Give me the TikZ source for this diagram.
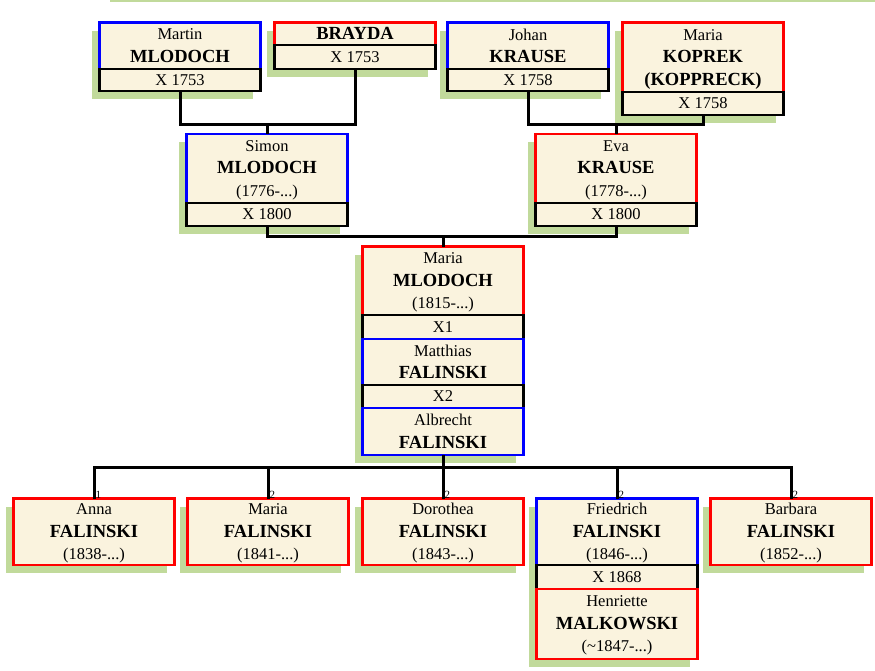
\documentclass[tikz,border=0pt]{standalone}
\usepackage{fontspec}
\setmainfont{Liberation Serif}
\usetikzlibrary{positioning,shadows}

\definecolor{cream}{RGB}{250,243,222}
\definecolor{leafgreen}{RGB}{193,218,155}
\newcommand{\surn}[1]{{\fontsize{18.5}{22.5}\selectfont\bfseries #1}}

\begin{document}
\begin{tikzpicture}[
  x=1pt, y=-1pt,
  box/.style={line width=2.8pt, fill=cream, minimum width=161pt, outer sep=0pt,
    inner sep=0pt, anchor=north, align=center, font=\fontsize{16.5}{22.5}\selectfont,
    general shadow={fill=leafgreen, shadow xshift=-8pt, shadow yshift=-8pt}},
  person/.style={box, draw=#1, text depth=-2pt},
  wed/.style={box, draw=black, minimum height=23pt, text depth=0pt},
  link/.style={line width=3pt, line join=miter},
  num/.style={font=\fontsize{11}{11}\selectfont, inner sep=0pt, anchor=south west, xshift=1.5pt}
]
  \useasboundingbox (0,0) rectangle (875,670);
  \draw[leafgreen, line width=2pt] (110,1) -- (875,1);

  % grandparents
  \node[person=blue, minimum height=46.5pt] (martin) at (180,22.5) {Martin\\\surn{MLODOCH}};
  \node[wed, minimum height=22pt, below=0pt of martin] (wmartin) {X 1753};
  \node[person=red, minimum height=22.5pt] (brayda) at (355,22.5) {\surn{BRAYDA}};
  \node[wed, minimum height=24pt, below=0pt of brayda] (wbrayda) {X 1753};
  \node[person=blue, minimum height=46.5pt] (johan) at (528,22.5) {Johan\\\surn{KRAUSE}};
  \node[wed, minimum height=22pt, below=0pt of johan] (wjohan) {X 1758};
  \node[person=red, minimum height=69.5pt] (koprek) at (703,22.5) {Maria\\\surn{KOPREK}\\\surn{(KOPPRECK)}};
  \node[wed, below=0pt of koprek] (wkoprek) {X 1758};

  % parents
  \node[person=blue, minimum height=69pt] (simon) at (267,134) {Simon\\\surn{MLODOCH}\\(1776-...)};
  \node[wed, below=0pt of simon] (wsimon) {X 1800};
  \node[person=red, minimum height=69pt] (eva) at (616,134) {Eva\\\surn{KRAUSE}\\(1778-...)};
  \node[wed, below=0pt of eva] (weva) {X 1800};

  % Maria and her husbands
  \node[person=red, minimum height=68.5pt] (maria) at (443,246.5) {Maria\\\surn{MLODOCH}\\(1815-...)};
  \node[wed, minimum height=24pt, below=0pt of maria] (x1) {X1};
  \node[person=blue, minimum height=46pt, below=0pt of x1] (matthias) {Matthias\\\surn{FALINSKI}};
  \node[wed, below=0pt of matthias] (x2) {X2};
  \node[person=blue, minimum height=47pt, below=0pt of x2] (albrecht) {Albrecht\\\surn{FALINSKI}};

  % children
  \node[person=red, minimum height=66.5pt] (anna) at (94,498.5) {Anna\\\surn{FALINSKI}\\(1838-...)};
  \node[person=red, minimum height=66.5pt] (mariaf) at (268,498.5) {Maria\\\surn{FALINSKI}\\(1841-...)};
  \node[person=red, minimum height=66.5pt] (dorothea) at (443,498.5) {Dorothea\\\surn{FALINSKI}\\(1843-...)};
  \node[person=blue, minimum height=66.5pt] (friedrich) at (617,498.5) {Friedrich\\\surn{FALINSKI}\\(1846-...)};
  \node[wed, minimum height=24pt, below=0pt of friedrich] (wfriedrich) {X 1868};
  \node[person=red, minimum height=70pt, below=0pt of wfriedrich] (henriette) {Henriette\\\surn{MALKOWSKI}\\(\textasciitilde1847-...)};
  \node[person=red, minimum height=66.5pt] (barbara) at (791,498.5) {Barbara\\\surn{FALINSKI}\\(1852-...)};

  \coordinate (top1) at (267,124);
  \coordinate (top2) at (616,124);
  \coordinate (mid) at (443,236);
  \coordinate (kids) at (443,467);

  \draw[link] (wmartin.south) |- (top1) -| (wbrayda.south);
  \draw[link] (top1) -- (simon.north);
  \draw[link] (wjohan.south) |- (top2) -| (wkoprek.south);
  \draw[link] (top2) -- (eva.north);
  \draw[link] (wsimon.south) |- (mid) -| (weva.south);
  \draw[link] (mid) -- (maria.north);
  \draw[link] (albrecht.south) -- (kids);
  \draw[link] (anna.north) |- (kids) -| (barbara.north);
  \foreach \k/\n in {anna/1, mariaf/2, dorothea/2, friedrich/2, barbara/2} {
    \draw[link] (\k.north) -- (\k.north |- kids);
    \node[num] (n\k) at (\k.north) {\n};
  }
\end{tikzpicture}
\end{document}
